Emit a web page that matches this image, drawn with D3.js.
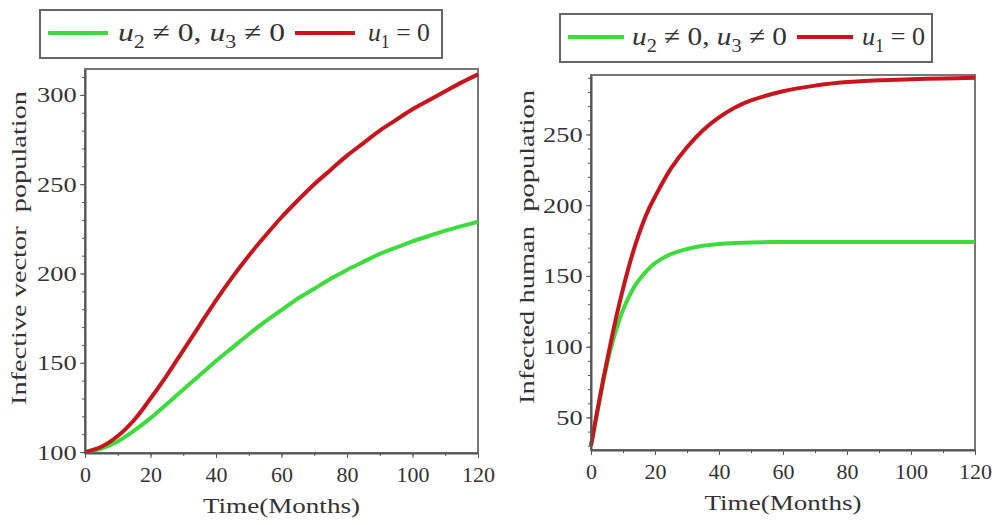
<!DOCTYPE html>
<meta charset="utf-8">
<title>Infective vector / infected human population</title>
<html>
<style>
body { margin: 0; background: #fff; }
svg { font-family: "Liberation Serif", "Times New Roman", Times, serif; }
.axis path, .axis line { stroke: #555; }
.axis text { fill: #333; font-size: 22px; font-family: "Liberation Serif", "Times New Roman", Times, serif; }
</style>
<body>
<svg width="995" height="525"></svg>
<script src="https://d3js.org/d3.v7.min.js"></script>
<script>
// time in months
var monthsVector = [0,5,10,15,20,25,30,35,40,45,50,55,60,65,70,75,80,85,90,95,100,105,110,115,120];
// infective vector population, with controls u2,u3 (green) and with u1 = 0 (red)
var vectorControl = [100,102,106,112,119,127,135,143,151,158.5,166,173,179.5,186,191.5,197,202,206.5,211,214.5,218,221,224,226.5,229];
var vectorNoU1    = [100,103,109,118,130,143,157,171,185,198,210,221,231.5,241,250,258,266,273,280,286,292,297,302,307,311.5];

var monthsHuman = [0,2,4,6,8,10,12,14,16,18,20,25,30,35,40,45,50,60,70,80,90,100,110,120];
// infected human population
var humanControl = [30,54,77,97,113,126,136,144,150,155,159,165.5,169,171.3,172.6,173.3,173.7,174,174,174,174,174,174,174];
var humanNoU1    = [30,55,79,101,122,141,158,173,186,197,206,226,241,253,262,269,274,280.5,284.5,287,288.3,289,289.5,290];

var xTicks = [0,20,40,60,80,100,120];
var vectorTicks = [100,150,200,250,300];
var humanTicks = [50,100,150,200,250];

var green = "#3ddc3d", red = "#c8141c";
var svg = d3.select("svg");

function drawPanel(opt) {
  var x = d3.scaleLinear().domain([0,120]).range([opt.left, opt.right]);
  var y = d3.scaleLinear().domain(opt.yDomain).range([opt.bottom, opt.top]);
  var g = svg.append("g");

  // frame
  g.append("rect")
    .attr("x", opt.left).attr("y", opt.top)
    .attr("width", opt.right - opt.left).attr("height", opt.bottom - opt.top)
    .attr("fill", "none").attr("stroke", "#777").attr("stroke-width", 2);

  var line = d3.line().curve(d3.curveCatmullRom.alpha(0.5))
    .x(function(d) { return x(d[0]); })
    .y(function(d) { return y(d[1]); });

  [[opt.green, green], [opt.red, red]].forEach(function(s) {
    g.append("path")
      .datum(opt.months.map(function(m, i) { return [m, s[0][i]]; }))
      .attr("fill", "none").attr("stroke", s[1]).attr("stroke-width", 4)
      .attr("stroke-linejoin", "round")
      .attr("d", line);
  });

  // minor ticks
  g.append("g").attr("class", "axis")
    .attr("transform", "translate(0," + opt.bottom + ")")
    .call(d3.axisBottom(x).tickValues(d3.range(0, 121, 10)).tickSize(3).tickFormat(""))
    .select(".domain").remove();
  var minorY = d3.range(Math.ceil(opt.yDomain[0] / 10) * 10, opt.yDomain[1], 10);
  g.append("g").attr("class", "axis")
    .attr("transform", "translate(" + opt.left + ",0)")
    .call(d3.axisLeft(y).tickValues(minorY).tickSize(3).tickFormat(""))
    .select(".domain").remove();

  // major axes
  var xa = g.append("g").attr("class", "axis")
    .attr("transform", "translate(0," + opt.bottom + ")")
    .call(d3.axisBottom(x).tickValues(xTicks).tickSize(5).tickSizeOuter(0).tickPadding(8));
  xa.select(".domain").attr("stroke-width", 2);

  var ya = g.append("g").attr("class", "axis")
    .attr("transform", "translate(" + opt.left + ",0)")
    .call(d3.axisLeft(y).tickValues(opt.yTicks).tickSize(5).tickSizeOuter(0).tickPadding(2));
  ya.select(".domain").attr("stroke-width", 2);
  ya.selectAll("text").attr("transform", "scale(1.2,1)");

  g.append("text")
    .attr("x", (opt.left + opt.right) / 2).attr("y", opt.bottom + 60)
    .attr("text-anchor", "middle").attr("font-size", 22).attr("fill", "#333")
    .attr("textLength", 157).attr("lengthAdjust", "spacingAndGlyphs")
    .text("Time(Months)");

  g.append("text")
    .attr("transform", "translate(" + opt.labelX + "," + opt.labelY + ") rotate(-90)")
    .attr("text-anchor", "middle").attr("font-size", 22).attr("fill", "#333")
    .attr("textLength", 314).attr("lengthAdjust", "spacingAndGlyphs")
    .attr("xml:space", "preserve")
    .text(opt.yLabel);

  // legend
  var L = opt.legend;
  var lg = g.append("g");
  lg.append("rect").attr("x", L.x).attr("y", L.y).attr("width", L.w).attr("height", 48)
    .attr("fill", "#fff").attr("stroke", "#666").attr("stroke-width", 2);
  var ly = L.y + 23;
  lg.append("line").attr("x1", L.g1).attr("x2", L.g1 + L.lineLen).attr("y1", ly).attr("y2", ly)
    .attr("stroke", green).attr("stroke-width", 4);
  lg.append("line").attr("x1", L.r1).attr("x2", L.r1 + L.lineLen).attr("y1", ly).attr("y2", ly)
    .attr("stroke", red).attr("stroke-width", 4);

  var t1 = lg.append("text").attr("x", L.tx1).attr("y", ly + 8)
    .attr("font-size", 26).attr("fill", "#333")
    .attr("textLength", L.len1).attr("lengthAdjust", "spacingAndGlyphs");
  t1.append("tspan").attr("font-style", "italic").text("u");
  t1.append("tspan").attr("font-size", 18).attr("dy", 7).text("2");
  t1.append("tspan").attr("dy", -7).text(" \u2260 0, ");
  t1.append("tspan").attr("font-style", "italic").text("u");
  t1.append("tspan").attr("font-size", 18).attr("dy", 7).text("3");
  t1.append("tspan").attr("dy", -7).text(" \u2260 0");

  var t2 = lg.append("text").attr("x", L.tx2).attr("y", ly + 8)
    .attr("font-size", 26).attr("fill", "#333")
    .attr("textLength", L.len2).attr("lengthAdjust", "spacingAndGlyphs");
  t2.append("tspan").attr("font-style", "italic").text("u");
  t2.append("tspan").attr("font-size", 18).attr("dy", 7).text("1");
  t2.append("tspan").attr("dy", -7).text(" = 0");
}

drawPanel({
  left: 85, right: 478, top: 69, bottom: 453,
  yDomain: [99.5, 314.5], yTicks: vectorTicks,
  months: monthsVector, green: vectorControl, red: vectorNoU1,
  yLabel: "Infective vector  population", labelX: 26, labelY: 248,
  legend: {x: 40, y: 10, w: 402, g1: 48, r1: 295, lineLen: 60, tx1: 118, tx2: 368, len1: 167, len2: 62}
});

drawPanel({
  left: 591, right: 975, top: 75, bottom: 450,
  yDomain: [27, 292], yTicks: humanTicks,
  months: monthsHuman, green: humanControl, red: humanNoU1,
  yLabel: "Infected human  population", labelX: 534, labelY: 247,
  legend: {x: 560, y: 14, w: 372, g1: 568, r1: 797, lineLen: 56, tx1: 632, tx2: 862, len1: 155, len2: 63}
});
</script>
</body>
</html>
